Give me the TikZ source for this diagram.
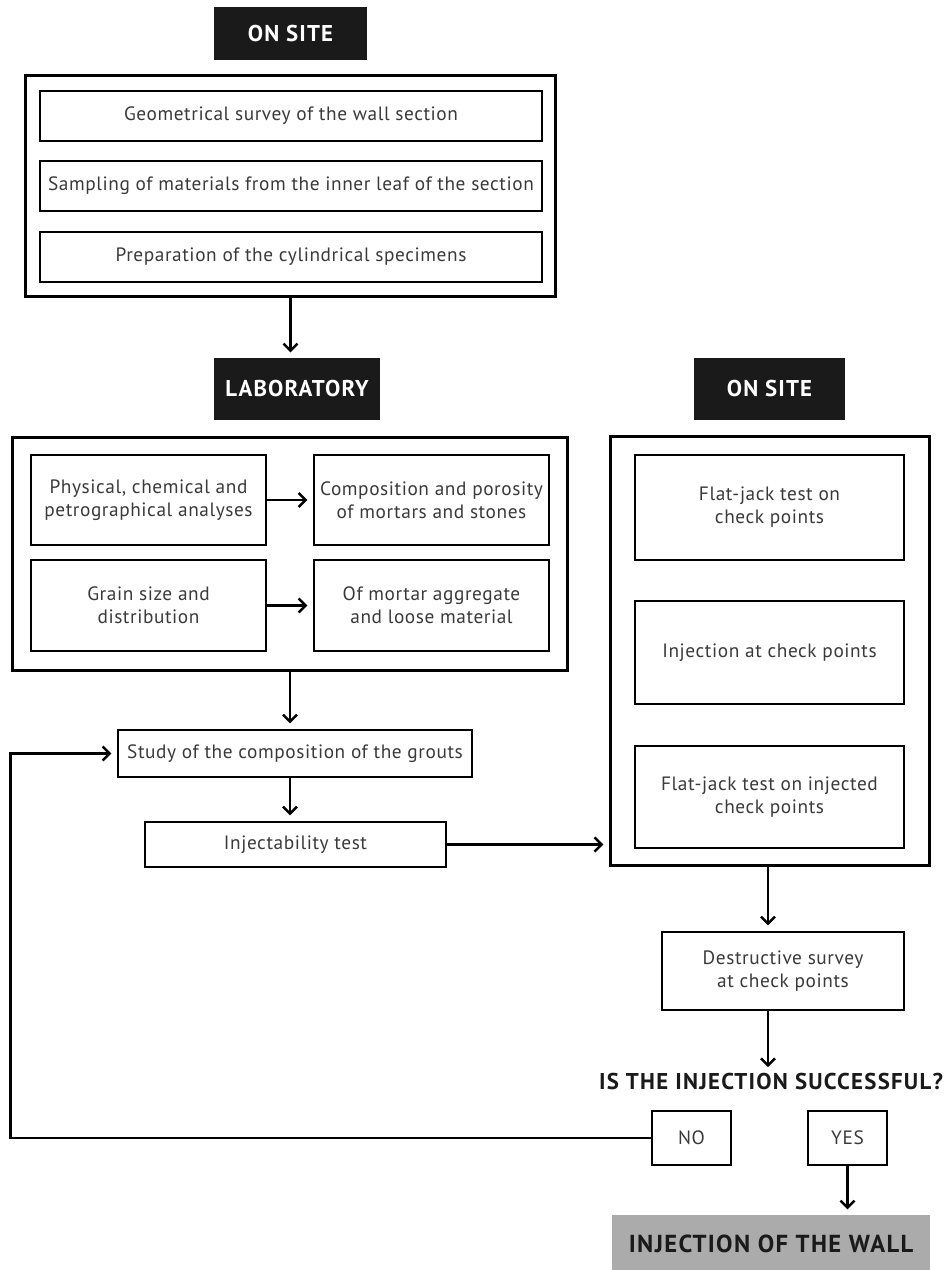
\documentclass[tikz,border=0pt]{standalone}
\usepackage{fontspec}
\setmainfont{PT Sans}
\usetikzlibrary{positioning,arrows.meta}
\definecolor{hdrblack}{HTML}{1A1A1A}
\definecolor{txtgrey}{HTML}{3A3A3A}
\definecolor{wallgrey}{HTML}{ABABAB}
\tikzset{
  hdr/.style ={rectangle, fill=hdrblack, text=white, inner sep=0pt,
               font=\fontsize{13}{15}\selectfont\bfseries\addfontfeatures{LetterSpace=5}},
  grp/.style ={rectangle, draw=black, line width=1.7pt, inner sep=0pt},
  stp/.style ={rectangle, draw=black, line width=1.5pt, text=txtgrey, align=center,
               font=\fontsize{11}{13}\selectfont\addfontfeatures{LetterSpace=3}, inner sep=2pt},
  fl/.style  ={-{Straight Barb[length=4pt,width=8pt]}, line width=1.4pt, shorten >=3pt},
  qst/.style ={font=\fontsize{13}{15}\selectfont\bfseries\addfontfeatures{LetterSpace=5.5},
               text=hdrblack, inner sep=0pt},
  wall/.style={rectangle, fill=wallgrey, text=hdrblack, inner sep=0pt,
               font=\fontsize{14}{16}\selectfont\bfseries\addfontfeatures{LetterSpace=5.5}}
}

\begin{document}
\begin{tikzpicture}[x=0.02cm, y=-0.02cm]
  \useasboundingbox (0,0) rectangle (947,1270);

  % first site block
  \node[hdr,minimum width=3.06cm,minimum height=1.06cm] (site1) at (290.5,33.5) {ON SITE};
  \node[grp,minimum width=10.62cm,minimum height=4.44cm] (grp1) at (290.5,186) {};
  \node[stp,minimum width=10.04cm,minimum height=1cm] (s1) at (291,116) {Geometrical survey of the wall section};
  \node[stp,minimum width=10.04cm,minimum height=1cm] (s2) at (291,186) {Sampling of materials from the inner leaf of the section};
  \node[stp,minimum width=10.04cm,minimum height=1cm] (s3) at (291,257) {Preparation of the cylindrical specimens};

  % laboratory block
  \node[hdr,minimum width=3.32cm,minimum height=1.24cm] (lab) at (297,389) {LABORATORY};
  \node[grp,minimum width=11.12cm,minimum height=4.68cm] (grp2) at (290,554) {};
  \node[stp,minimum width=4.7cm,minimum height=1.8cm] (a1) at (148.5,500) {Physical, chemical and\\petrographical analyses};
  \node[stp,minimum width=4.7cm,minimum height=1.8cm] (a2) at (431.5,500) {Composition and porosity\\of mortars and stones};
  \node[stp,minimum width=4.7cm,minimum height=1.82cm] (a3) at (148.5,605.5) {Grain size and\\distribution};
  \node[stp,minimum width=4.7cm,minimum height=1.82cm] (a4) at (431.5,605.5) {Of mortar aggregate\\and loose material};
  \draw[fl] (a1) -- (a2);
  \draw[fl] (a3) -- (a4);

  \node[stp,minimum width=7.08cm,minimum height=0.94cm] (grout) at (295,753.5) {Study of the composition of the grouts};
  \node[stp,minimum width=6.02cm,minimum height=0.9cm] (inj) at (295.5,844.5) {Injectability test};

  % second site block
  \node[hdr,minimum width=3.02cm,minimum height=1.24cm] (site2) at (769.5,389) {ON SITE};
  \node[grp,minimum width=6.4cm,minimum height=8.6cm] (grp3) at (770,651) {};
  \node[stp,minimum width=5.38cm,minimum height=2.1cm] (c1) at (769.5,507.5) {Flat-jack test on\\check points};
  \node[stp,minimum width=5.38cm,minimum height=2.06cm] (c2) at (769.5,652.5) {Injection at check points};
  \node[stp,minimum width=5.38cm,minimum height=2.04cm] (c3) at (769.5,797) {Flat-jack test on injected\\check points};

  \node[stp,minimum width=4.84cm,minimum height=1.56cm] (destr) at (783,971) {Destructive survey\\at check points};
  \node[qst] (ask) at (771,1081) {IS THE INJECTION SUCCESSFUL?};
  \node[stp,minimum width=1.58cm,minimum height=1.08cm] (no) at (691.5,1138) {NO};
  \node[stp,minimum width=1.58cm,minimum height=1.08cm] (yes) at (847.5,1138) {YES};
  \node[wall,minimum width=6.36cm,minimum height=1.14cm] (wall) at (771,1243.5) {INJECTION OF THE WALL};

  % connectors
  \draw[fl] (grp1.south) -- (grp1.south |- lab.north);
  \draw[fl] (grp2.south) -- (grp2.south |- grout.north);
  \draw[fl] (grout.south -| grp2.south) -- (inj.north -| grp2.south);
  \draw[fl] (inj.east) -- (inj.east -| grp3.west);
  \draw[fl] (grp3.south -| 768,0) -- (destr.north -| 768,0);
  \draw[fl] (destr.south -| 768,0) -- (ask.north -| 768,0);
  \draw[fl] (no.west) -- (no.west -| grp2.west) |- (grout.west);
  \draw[fl] (yes.south) -- (yes.south |- wall.north);
\end{tikzpicture}
\end{document}
